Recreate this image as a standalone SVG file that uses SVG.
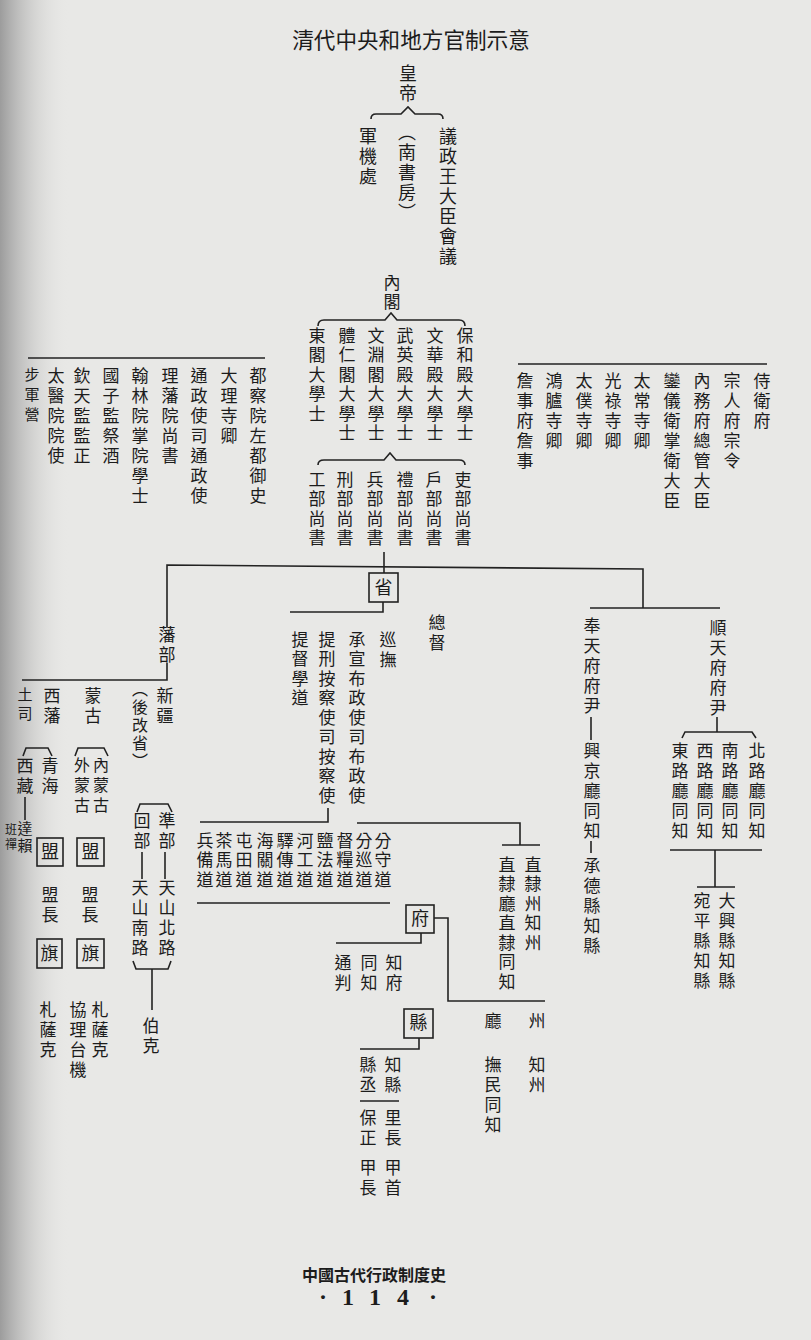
<svg xmlns="http://www.w3.org/2000/svg" width="811" height="1340" viewBox="0 0 811 1340">
<defs>
<linearGradient id="edge" x1="0" y1="0" x2="1" y2="0">
<stop offset="0" stop-color="#9c9c9c"/>
<stop offset="1" stop-color="#e8e8e6" stop-opacity="0"/>
</linearGradient>
</defs>
<style>
text{font-family:"Noto Sans CJK TC","Noto Sans CJK SC",sans-serif;fill:#1c1c1c;}
.v{writing-mode:vertical-rl;font-size:17px;letter-spacing:3px;}
.v18{writing-mode:vertical-rl;font-size:18px;letter-spacing:2px;}
.vs{writing-mode:vertical-rl;font-size:17px;letter-spacing:2.5px;}
.v16{writing-mode:vertical-rl;font-size:16px;letter-spacing:4px;}
.h{font-size:18px;text-anchor:middle;}
.ln{stroke:#222;stroke-width:1.6;fill:none;}
.box{fill:none;stroke:#222;stroke-width:1.6;}
</style>
<rect width="811" height="1340" fill="#e8e8e6"/>
<rect width="70" height="1340" fill="url(#edge)"/>

<g id="title"><text x="411" y="48" font-size="21.6" text-anchor="middle">清代中央和地方官制示意</text></g>

<g id="connectors">
<path class="ln" d="M371,119 Q371,114 376,114 L401,114 L408,107 L415,114 L438,114 Q443,114 443,119"/>
<path class="ln" d="M318,326 Q318,320 324,320 L385,320 L391,313 L397,320 L459,320 Q465,320 465,326"/>
<path class="ln" d="M318,465 Q318,460 324,460 L384,460 L390,453 L396,460 L459,460 Q465,460 465,465"/>
<path class="ln" d="M384,552 L384,573"/>
<path class="ln" d="M167,627 L167,565 L643,569 L643,608"/>
<path class="ln" d="M590,608 L720,608"/>
<path class="ln" d="M383,602 L383,612 L290,612"/>
<path class="ln" d="M328,808 L328,822 L200,822"/>
<path class="ln" d="M357,823 L520,823 L520,845"/>
<path class="ln" d="M502,845 L540,845"/>
<path class="ln" d="M197,903 L390,903"/>
<path class="ln" d="M421,933 L421,943 L336,943"/>
<path class="ln" d="M434,918 L448,918 L448,1001 L545,1001"/>
<path class="ln" d="M419,1038 L419,1049 L360,1049"/>
<path class="ln" d="M360,1101 L399,1101"/>
<path class="ln" d="M28,358 L265,358"/>
<path class="ln" d="M518,364 L767,364"/>
<path class="ln" d="M167,663 L167,680 L22,680"/>
<path class="ln" d="M23,756 L26,748 L48,748 L52,756"/>
<path class="ln" d="M75,756 L78,748 L104,748 L108,756"/>
<path class="ln" d="M25,797 L25,820"/>
<path class="ln" d="M137,812 L140,804 L168,804 L172,812"/>
<path class="ln" d="M165,852 L165,879"/>
<path class="ln" d="M142,852 L142,879"/>
<path class="ln" d="M133,961 L136,969 L168,969 L171,961"/>
<path class="ln" d="M152,969 L152,1010"/>
<path class="ln" d="M591,717 L591,740"/>
<path class="ln" d="M591,841 L591,853"/>
<path class="ln" d="M717,717 L717,732"/>
<path class="ln" d="M682,738 L685,732 L752,732 L756,738"/>
<path class="ln" d="M670,850 L762,850"/>
<path class="ln" d="M715,850 L715,887"/>
<path class="ln" d="M697,887 L735,887"/>
</g>

<g id="emperor"><text class="v18" x="408" y="64">皇帝</text></g>
<g id="junjichu"><text class="v18" x="368" y="127">軍機處</text></g>
<g id="nanshufang"><text class="v18" x="407" y="123">（南書房）</text></g>
<g id="yizheng"><text class="v18" x="448" y="127">議政王大臣會議</text></g>

<g id="neige"><text class="vs" x="392" y="274">內閣</text></g>
<g id="daxueshi">
<text class="vs" x="465" y="327">保和殿大學士</text>
<text class="vs" x="435" y="327">文華殿大學士</text>
<text class="vs" x="405" y="327">武英殿大學士</text>
<text class="vs" x="376" y="327">文淵閣大學士</text>
<text class="vs" x="347" y="327">體仁閣大學士</text>
<text class="vs" x="317" y="327">東閣大學士</text>
</g>
<g id="liubu">
<text class="vs" x="463" y="471">吏部尚書</text>
<text class="vs" x="434" y="471">戶部尚書</text>
<text class="vs" x="405" y="471">禮部尚書</text>
<text class="vs" x="375" y="471">兵部尚書</text>
<text class="vs" x="345" y="471">刑部尚書</text>
<text class="vs" x="317" y="471">工部尚書</text>
</g>

<g id="left-offices">
<text class="v" x="258" y="367">都察院左都御史</text>
<text class="v" x="229" y="367">大理寺卿</text>
<text class="v" x="199" y="367">通政使司通政使</text>
<text class="v" x="170" y="367">理藩院尚書</text>
<text class="v" x="140" y="367">翰林院掌院學士</text>
<text class="v" x="111" y="367">國子監祭酒</text>
<text class="v" x="82" y="367">欽天監監正</text>
<text class="v" x="56" y="367">太醫院院使</text>
<text class="v" x="32" y="367" style="font-size:15px;letter-spacing:5px">步軍營</text>
</g>
<g id="right-offices">
<text class="v" x="762" y="372">侍衛府</text>
<text class="v" x="732" y="372">宗人府宗令</text>
<text class="v" x="702" y="372">內務府總管大臣</text>
<text class="v" x="672" y="372">鑾儀衛掌衛大臣</text>
<text class="v" x="642" y="372">太常寺卿</text>
<text class="v" x="613" y="372">光祿寺卿</text>
<text class="v" x="584" y="372">太僕寺卿</text>
<text class="v" x="554" y="372">鴻臚寺卿</text>
<text class="v" x="525" y="372">詹事府詹事</text>
</g>

<g id="sheng"><rect class="box" x="369" y="573" width="29" height="29"/><text class="h" x="383.5" y="594">省</text></g>
<g id="zongdu"><text class="v" x="437" y="614">總督</text></g>
<g id="xunfu"><text class="v" x="388" y="631">巡撫</text></g>
<g id="buzheng"><text class="vs" x="357" y="631">承宣布政使司布政使</text></g>
<g id="ancha"><text class="vs" x="327" y="631">提刑按察使司按察使</text></g>
<g id="xuedao"><text class="vs" x="300" y="631">提督學道</text></g>

<g id="dao">
<text class="vs" x="383" y="832">分守道</text>
<text class="vs" x="364" y="832">分巡道</text>
<text class="vs" x="345" y="832">督糧道</text>
<text class="vs" x="325" y="832">鹽法道</text>
<text class="vs" x="305" y="832">河工道</text>
<text class="vs" x="285" y="832">驛傳道</text>
<text class="vs" x="265" y="832">海關道</text>
<text class="vs" x="244" y="832">屯田道</text>
<text class="vs" x="224" y="832">茶馬道</text>
<text class="vs" x="205" y="832">兵備道</text>
</g>

<g id="zhili">
<text class="vs" x="533" y="856">直隸州知州</text>
<text class="vs" x="507" y="856">直隸廳直隸同知</text>
</g>

<g id="fu"><rect class="box" x="406" y="905" width="28" height="28"/><text class="h" x="420" y="925">府</text></g>
<g id="fu-officials">
<text class="v" x="394" y="954">知府</text>
<text class="v" x="369" y="954">同知</text>
<text class="v" x="343" y="954">通判</text>
</g>
<g id="ting"><text class="v" x="493" y="1012">廳</text><text class="v" x="493" y="1056">撫民同知</text></g>
<g id="zhou"><text class="v" x="537" y="1012">州</text><text class="v" x="537" y="1056">知州</text></g>

<g id="xian"><rect class="box" x="404" y="1009" width="29" height="29"/><text class="h" x="418.5" y="1029">縣</text></g>
<g id="xian-officials">
<text class="v" x="393" y="1056">知縣</text>
<text class="v" x="368" y="1056">縣丞</text>
<text class="v" x="393" y="1109">里長</text>
<text class="v" x="368" y="1109">保正</text>
<text class="v" x="393" y="1159">甲首</text>
<text class="v" x="368" y="1159">甲長</text>
</g>

<g id="fanbu"><text class="v" x="167" y="626">藩部</text></g>
<g id="xinjiang"><text class="v" x="165" y="687">新疆</text><text class="v16" x="140" y="681" style="letter-spacing:2px">（後改省）</text></g>
<g id="menggu"><text class="v" x="93" y="687">蒙古</text></g>
<g id="xifan"><text class="v" x="52" y="687">西藩</text></g>
<g id="tusi"><text class="v" x="25" y="687" style="font-size:15px;letter-spacing:4px">土司</text></g>
<g id="qinghai"><text class="v" x="50" y="757">青海</text></g>
<g id="xizang"><text class="v" x="25" y="757">西藏</text><text class="v" x="25" y="821" style="font-size:15px;letter-spacing:2px">達賴</text><text class="v" x="11" y="823" style="font-size:12px;letter-spacing:3px">班禪</text></g>
<g id="neimeng"><text class="v16" x="101" y="757">內蒙古</text></g>
<g id="waimeng"><text class="v16" x="82" y="757">外蒙古</text></g>
<g id="meng">
<rect class="box" x="37" y="838" width="26" height="28"/><text class="h" x="50" y="858" font-size="16">盟</text>
<rect class="box" x="77" y="838" width="27" height="28"/><text class="h" x="90.5" y="858" font-size="16">盟</text>
<text class="v" x="50" y="886">盟長</text>
<text class="v" x="90" y="886">盟長</text>
</g>
<g id="qi">
<rect class="box" x="37" y="939" width="25" height="29"/><text class="h" x="49.5" y="960" font-size="16">旗</text>
<rect class="box" x="77" y="939" width="27" height="29"/><text class="h" x="90.5" y="960" font-size="16">旗</text>
<text class="v" x="48" y="1001">札薩克</text>
<text class="v" x="78" y="1001">協理台機</text>
<text class="v" x="100" y="1001">札薩克</text>
</g>
<g id="zhunbu"><text class="v" x="167" y="812">準部</text><text class="v" x="167" y="879">天山北路</text></g>
<g id="huibu"><text class="v" x="142" y="812">回部</text><text class="v" x="140" y="879">天山南路</text></g>
<g id="boke"><text class="v" x="151" y="1017">伯克</text></g>

<g id="fengtian">
<text class="v" x="592" y="617">奉天府府尹</text>
<text class="v" x="592" y="742">興京廳同知</text>
<text class="v" x="592" y="857">承德縣知縣</text>
</g>
<g id="shuntian">
<text class="v" x="718" y="619">順天府府尹</text>
<text class="v" x="757" y="742">北路廳同知</text>
<text class="v" x="730" y="742">南路廳同知</text>
<text class="v" x="705" y="742">西路廳同知</text>
<text class="v" x="680" y="742">東路廳同知</text>
<text class="v" x="727" y="892">大興縣知縣</text>
<text class="v" x="702" y="892">宛平縣知縣</text>
</g>

<g id="footer">
<text x="374" y="1281" font-size="16" font-weight="700" text-anchor="middle">中國古代行政制度史</text>
<text x="323 348 375 403 433" y="1305" font-size="24" font-weight="700" text-anchor="middle" style="font-family:'Liberation Serif',serif">·114·</text>
</g>
</svg>
